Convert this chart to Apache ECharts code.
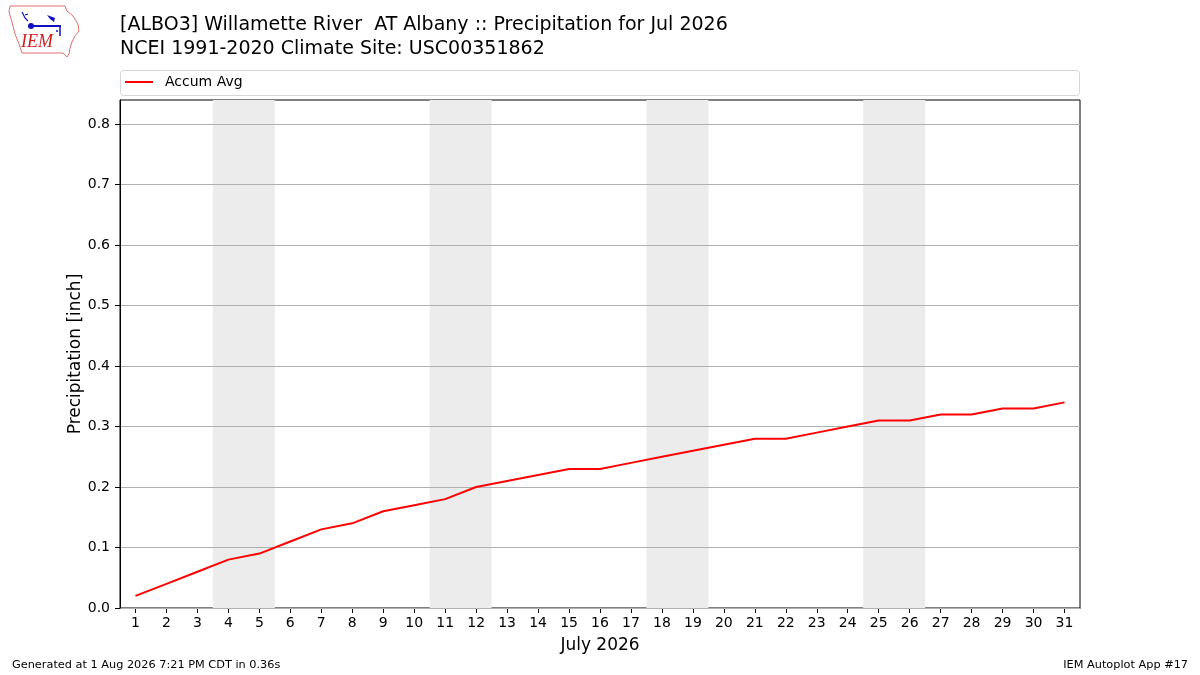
<!DOCTYPE html>
<html>
<head>
<meta charset="utf-8">
<script src="https://cdn.jsdelivr.net/npm/echarts@6/dist/echarts.min.js"></script>
<style>
html,body{margin:0;padding:0;background:#fff;}
#chart{width:1200px;height:675px;}
</style>
</head>
<body>
<div id="chart"></div>
<script>
// ---- data ----
const days = [1,2,3,4,5,6,7,8,9,10,11,12,13,14,15,16,17,18,19,20,21,22,23,24,25,26,27,28,29,30,31];
const accumAvg = [0.02,0.04,0.06,0.08,0.09,0.11,0.13,0.14,0.16,0.17,0.18,0.20,0.21,0.22,0.23,0.23,0.24,0.25,0.26,0.27,0.28,0.28,0.29,0.30,0.31,0.31,0.32,0.32,0.33,0.33,0.34];
const weekendStarts = [4, 11, 18, 25]; // Saturday dates, shaded Sat-Sun
const yTicks = [0,0.1,0.2,0.3,0.4,0.5,0.6,0.7,0.8];
const titleText = '[ALBO3] Willamette River  AT Albany :: Precipitation for Jul 2026\nNCEI 1991-2020 Climate Site: USC00351862';
const seriesName = 'Accum Avg';

const FONT = 'DejaVu Sans';
const chart = echarts.init(document.getElementById('chart'), null, {renderer:'canvas'});

const lineData = days.map((d,i)=>[d, accumAvg[i]]);
const bands = weekendStarts.map(d => [{xAxis: d-0.5}, {xAxis: d+1.5}]);

chart.setOption({
  backgroundColor:'#fff',
  animation:false,
  textStyle:{fontFamily:FONT},
  title:{
    text:titleText,
    left:115, top:8,
    textStyle:{fontFamily:FONT,fontSize:19,fontWeight:'normal',color:'#000',lineHeight:24}
  },
  legend:{
    data:[seriesName],
    left:125, top:75,
    icon:'rect', itemWidth:28, itemHeight:2, itemGap:10,
    textStyle:{fontFamily:FONT,fontSize:14,color:'#000',padding:[0,0,0,7]},
    padding:0
  },
  grid:{
    left:120, right:120, top:100, bottom:67,
    show:true, borderColor:'#000', borderWidth:1, backgroundColor:'transparent',
    containLabel:false
  },
  xAxis:{
    type:'value', min:0.5, max:31.5,
    name:'July 2026', nameLocation:'middle', nameGap:29, nameMoveOverlap:false,
    nameTextStyle:{fontFamily:FONT,fontSize:17,color:'#000'},
    axisLine:{show:true,lineStyle:{color:'#000',width:1}},
    axisTick:{show:true,customValues:days,length:5,inside:false,lineStyle:{color:'#000'}},
    axisLabel:{customValues:days,margin:8,fontFamily:FONT,fontSize:14,color:'#000'},
    splitLine:{show:false}
  },
  yAxis:{
    type:'value', min:0, max:0.84, interval:0.1, z:2,
    name:'Precipitation [inch]', nameLocation:'middle', nameGap:36, nameRotate:90, nameMoveOverlap:false,
    nameTextStyle:{fontFamily:FONT,fontSize:17,color:'#000'},
    axisLine:{show:true,lineStyle:{color:'#000',width:1}},
    axisTick:{show:true,customValues:yTicks,length:5,lineStyle:{color:'#000'}},
    axisLabel:{customValues:yTicks,margin:10,fontFamily:FONT,fontSize:14,color:'#000',
      formatter:v=>v.toFixed(1)},
    splitLine:{show:true,lineStyle:{color:'#b0b0b0',width:1}}
  },
  series:[
    {
      name:'weekends', type:'line', z:1, data:lineData, symbol:'none', silent:true,
      lineStyle:{opacity:0},
      markArea:{silent:true, itemStyle:{color:'#ececec'}, data:bands}
    },
    {
      name:seriesName, type:'line', z:3, data:lineData, symbol:'none',
      lineStyle:{color:'#ff0000',width:2}, itemStyle:{color:'#ff0000'}
    }
  ],
  graphic:[
    {type:'rect', shape:{x:120.5,y:70.5,width:959,height:25,r:3}, style:{fill:'none',stroke:'#d6d6d6',lineWidth:1}, z:0},
    // IEM logo approximation
    {type:'polygon', shape:{points:[[10,6],[65,6],[67,11],[73,16],[78,24],[79,31],[75,36],[72,42],[70,48],[69,54],[67,57],[63,53],[22,53],[19,44],[15,34],[12,22],[9,12]]},
      style:{fill:'none',stroke:'#e07070',lineWidth:1}},
    {type:'line', shape:{x1:31,y1:26,x2:61,y2:26}, style:{stroke:'#1010c0',lineWidth:2}},
    {type:'circle', shape:{cx:31,cy:26,r:3}, style:{fill:'#1010c0'}},
    {type:'polygon', shape:{points:[[47,15],[55,18],[54,22],[50,19]]}, style:{fill:'#1010c0'}},
    {type:'line', shape:{x1:60,y1:26,x2:60,y2:36}, style:{stroke:'#1010c0',lineWidth:1.5}},
    {type:'line', shape:{x1:56,y1:31,x2:58,y2:31}, style:{stroke:'#1010c0',lineWidth:1.5}},
    {type:'polyline', shape:{points:[[22,12],[25,18],[28,21]]}, style:{fill:'none',stroke:'#1010c0',lineWidth:1.2}},
    {type:'line', shape:{x1:25,y1:15,x2:28,y2:14}, style:{stroke:'#1010c0',lineWidth:1.2}},
    {type:'text', left:21, top:33, style:{text:'IEM', font:'italic 18px "Liberation Serif", serif', fill:'#d02020'}},
    // footer
    {type:'text', left:12, top:660, style:{text:'Generated at 1 Aug 2026 7:21 PM CDT in 0.36s', font:'11.3px "DejaVu Sans"', fill:'#000'}},
    {type:'text', right:12, top:660, style:{text:'IEM Autoplot App #17', font:'11.3px "DejaVu Sans"', fill:'#000'}}
  ]
});
</script>
</body>
</html>
